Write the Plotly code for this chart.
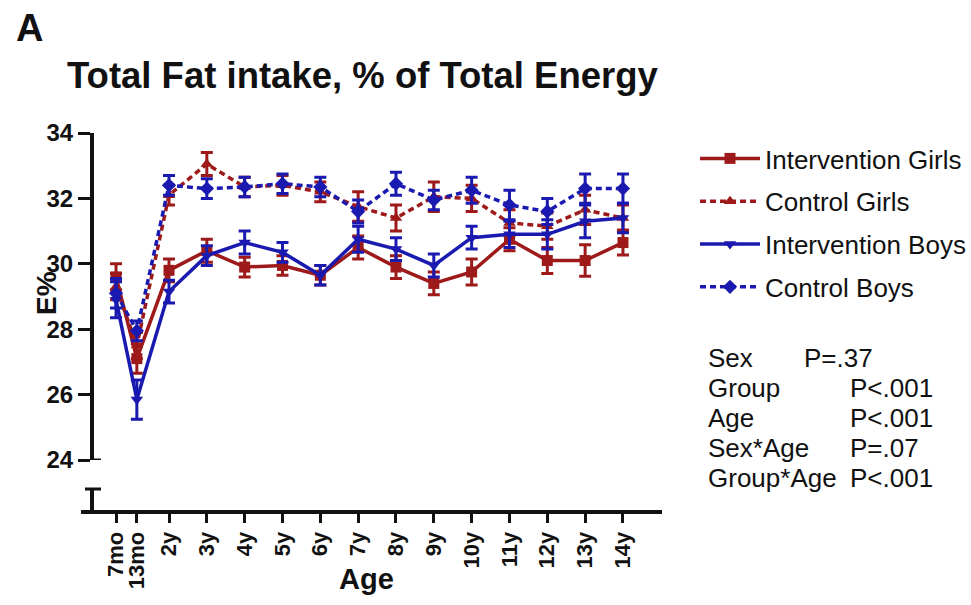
import plotly.graph_objects as go

# Visit ages (years) used as x positions, and their tick labels
age_pos = [0.6, 1.15, 2, 3, 4, 5, 6, 7, 8, 9, 10, 11, 12, 13, 14]
age_labels = ["7mo", "13mo", "2y", "3y", "4y", "5y", "6y", "7y", "8y",
              "9y", "10y", "11y", "12y", "13y", "14y"]

# Mean total fat intake (E%) and standard errors per group
int_girls = [29.6, 27.1, 29.8, 30.4, 29.9, 29.95, 29.65, 30.5, 29.9, 29.4,
             29.75, 30.75, 30.1, 30.1, 30.65]
int_girls_se = [0.4, 0.45, 0.35, 0.35, 0.3, 0.3, 0.3, 0.35, 0.35, 0.35,
                0.4, 0.35, 0.4, 0.48, 0.38]

ctrl_girls = [29.3, 27.5, 32.1, 33.05, 32.35, 32.4, 32.2, 31.75, 31.4, 32.05,
              32.0, 31.25, 31.15, 31.65, 31.4]
ctrl_girls_se = [0.4, 0.4, 0.3, 0.35, 0.3, 0.3, 0.3, 0.45, 0.4, 0.45,
                 0.4, 0.4, 0.4, 0.45, 0.4]

int_boys = [28.9, 25.85, 29.15, 30.25, 30.65, 30.35, 29.65, 30.75, 30.45, 29.95,
            30.8, 30.9, 30.9, 31.3, 31.4]
int_boys_se = [0.55, 0.6, 0.35, 0.3, 0.35, 0.3, 0.3, 0.4, 0.35, 0.35,
               0.35, 0.4, 0.45, 0.5, 0.45]

ctrl_boys = [29.1, 27.95, 32.4, 32.3, 32.35, 32.45, 32.35, 31.6, 32.45, 31.95,
             32.25, 31.8, 31.6, 32.3, 32.3]
ctrl_boys_se = [0.45, 0.3, 0.3, 0.3, 0.3, 0.3, 0.3, 0.35, 0.35, 0.3,
                0.4, 0.45, 0.4, 0.45, 0.45]

y_ticks = [24, 26, 28, 30, 32, 34]

stats_terms = ["Sex", "Group", "Age", "Sex*Age", "Group*Age"]
stats_p = ["P=.37", "P<.001", "P<.001", "P=.07", "P<.001"]

RED = "#9e1a1a"
BLUE = "#1a1ab0"
INK = "#111111"
FONT = "Liberation Sans, Arial, sans-serif"

W, H = 971, 605


def px_x(p):
    return p / W


def px_y(p):
    return 1 - p / H


series = [
    ("Intervention Girls", int_girls, int_girls_se, RED, "solid", "square"),
    ("Control Girls", ctrl_girls, ctrl_girls_se, RED, "6px,4px", "triangle-up"),
    ("Intervention Boys", int_boys, int_boys_se, BLUE, "solid", "triangle-down"),
    ("Control Boys", ctrl_boys, ctrl_boys_se, BLUE, "6px,4px", "diamond"),
]

fig = go.Figure()
for i, (name, vals, se, col, dash, sym) in enumerate(series):
    fig.add_trace(go.Scatter(
        x=age_pos, y=vals, name=name, mode="lines+markers",
        legendgroup=f"g{i}",
        line=dict(color=col, width=3.5, dash=dash),
        marker=dict(color=col, symbol=sym, size=11),
        error_y=dict(type="data", array=se, visible=True, color=col,
                     thickness=3, width=6),
    ))

# x range chosen so that the axis runs from just left of the y axis
x_lo = 2 - (169 - 81) / 37.83
x_hi = 2 + (662 - 169) / 37.83

fig.update_layout(
    width=W, height=H,
    margin=dict(l=0, r=0, t=0, b=0, autoexpand=False),
    paper_bgcolor="white", plot_bgcolor="white",
    showlegend=True,
    legend=dict(
        x=px_x(695), y=px_y(135), xanchor="left", yanchor="top",
        font=dict(family=FONT, size=26, color=INK),
        itemwidth=60, tracegroupgap=6, bgcolor="rgba(0,0,0,0)",
    ),
    xaxis=dict(
        domain=[px_x(81), px_x(662)], range=[x_lo, x_hi],
        anchor="free", position=px_y(512), automargin=False,
        tickmode="array", tickvals=age_pos, ticktext=age_labels,
        tickangle=-90, ticks="outside", ticklen=9, tickwidth=3,
        tickcolor=INK, showline=True, linewidth=4, linecolor=INK,
        showgrid=False, zeroline=False,
        tickfont=dict(family=FONT, size=22, color=INK, weight="bold"),
    ),
    yaxis=dict(
        domain=[px_y(460), px_y(133)], range=[24, 34],
        anchor="free", position=px_x(92), automargin=False,
        tickmode="array", tickvals=y_ticks,
        ticks="outside", ticklen=12, tickwidth=3, tickcolor=INK,
        ticklabelstandoff=0,
        showline=True, linewidth=4, linecolor=INK,
        showgrid=False, zeroline=False,
        tickfont=dict(family=FONT, size=24, color=INK, weight="bold"),
    ),
)

# axis break below 24: short stub down to the x axis with caps
fig.add_shape(type="line", xref="paper", yref="paper",
              x0=px_x(92), x1=px_x(92), y0=px_y(489), y1=px_y(512),
              line=dict(color=INK, width=4))
fig.add_shape(type="line", xref="paper", yref="paper",
              x0=px_x(85), x1=px_x(101), y0=px_y(489), y1=px_y(489),
              line=dict(color=INK, width=3))
fig.add_shape(type="line", xref="paper", yref="y",
              x0=px_x(92), x1=px_x(101), y0=24, y1=24,
              line=dict(color=INK, width=3))

ann = []
ann.append(dict(text="<b>A</b>", x=px_x(14), y=px_y(28), xanchor="left",
                yanchor="middle", font=dict(family=FONT, size=38, color=INK)))
ann.append(dict(text="<b>Total Fat intake, % of Total Energy</b>",
                x=px_x(363), y=px_y(76), xanchor="center", yanchor="middle",
                font=dict(family=FONT, size=36.5, color=INK)))
ann.append(dict(text="<b>E%</b>", x=px_x(46), y=px_y(293), textangle=-90,
                xanchor="center", yanchor="middle",
                font=dict(family=FONT, size=28, color=INK)))
ann.append(dict(text="<b>Age</b>", x=px_x(366), y=px_y(579),
                xanchor="center", yanchor="middle",
                font=dict(family=FONT, size=29, color=INK)))

stat_rows_y = [358, 388, 418, 448, 478]
stat_val_x = [802, 848, 848, 848, 848]
for term, p, yy, xv in zip(stats_terms, stats_p, stat_rows_y, stat_val_x):
    ann.append(dict(text=term, x=px_x(706), y=px_y(yy), xanchor="left",
                    yanchor="middle", font=dict(family=FONT, size=26, color=INK)))
    ann.append(dict(text=p, x=px_x(xv), y=px_y(yy), xanchor="left",
                    yanchor="middle", font=dict(family=FONT, size=26, color=INK)))

for a in ann:
    a.update(xref="paper", yref="paper", showarrow=False)
fig.update_layout(annotations=ann)

fig.write_html("out.html")
